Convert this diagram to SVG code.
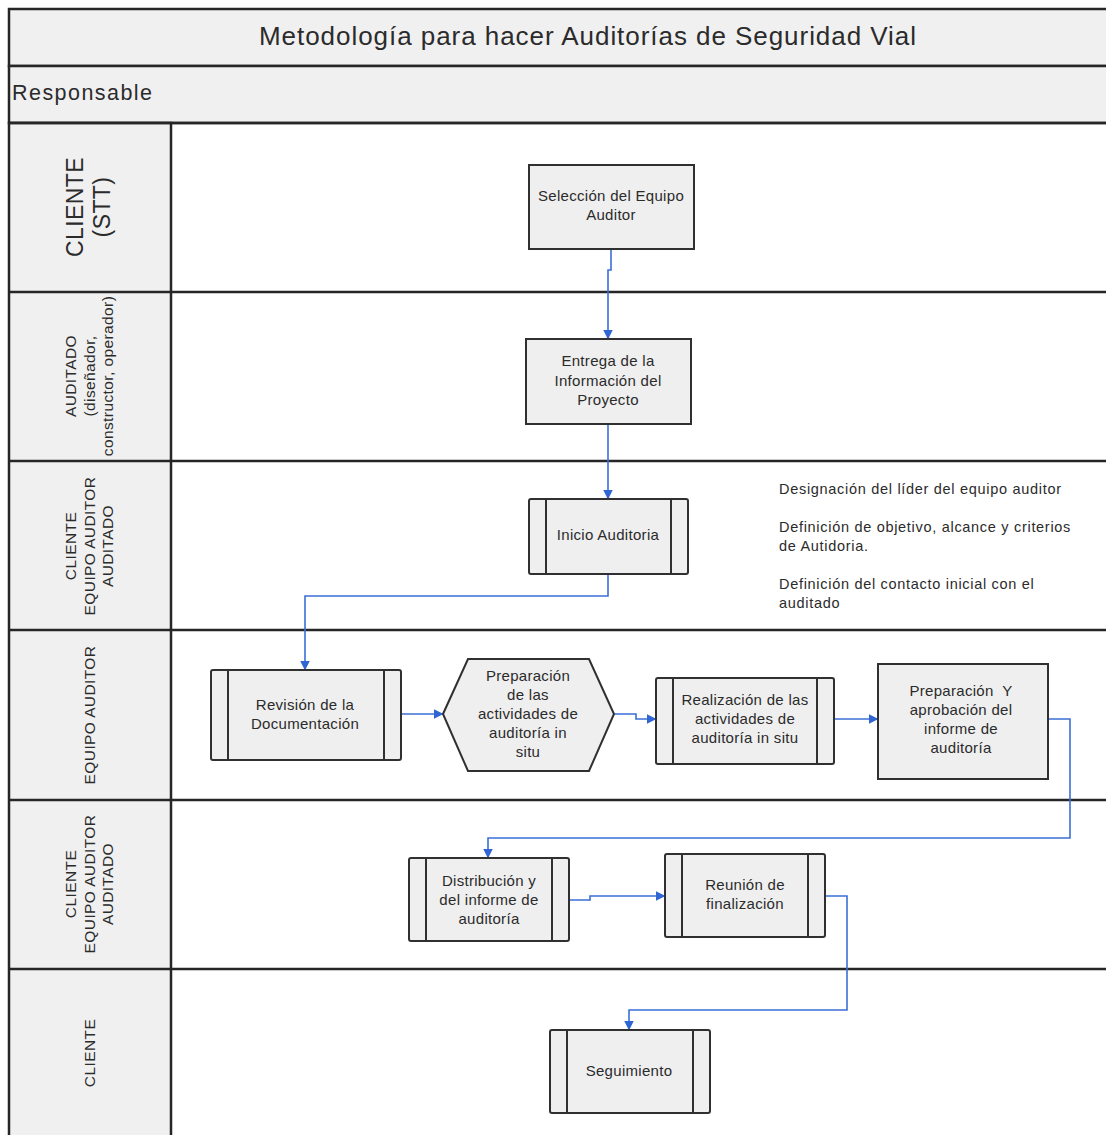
<svg xmlns="http://www.w3.org/2000/svg" width="1106" height="1135" viewBox="0 0 1106 1135">
<style>
text{font-family:"Liberation Sans",Arial,sans-serif;fill:#2b2b2b}
.hdr{fill:#f0f0f0;stroke:#262626;stroke-width:2.5}
.lane{stroke:#262626;stroke-width:2.5;fill:none}
.box{fill:#efefef;stroke:#303030;stroke-width:2}
.bar{stroke:#303030;stroke-width:2;fill:none}
.nt{font-size:15px;text-anchor:middle;letter-spacing:0.3px}
.lt{font-size:15.5px;text-anchor:middle;letter-spacing:0.4px}
.an{font-size:14.5px;letter-spacing:0.7px}
.con{fill:none;stroke:#3b6fd6;stroke-width:1.6}
</style>
<defs>
<marker id="arr" viewBox="0 0 10 10" refX="9.5" refY="5" markerWidth="10" markerHeight="10" markerUnits="userSpaceOnUse" orient="auto">
<path d="M0,0 L10,5 L0,10 z" fill="#2f66d4"/>
</marker>
</defs>
<rect x="0" y="0" width="1106" height="1135" fill="#ffffff"/>
<g id="frame">
<rect class="hdr" x="9" y="9" width="1110" height="57"/>
<rect class="hdr" x="9" y="66" width="1110" height="57"/>
<rect class="hdr" x="9" y="123" width="162" height="1020"/>
<line class="lane" x1="9" y1="123" x2="1106" y2="123"/>
<line class="lane" x1="9" y1="292" x2="1106" y2="292"/>
<line class="lane" x1="9" y1="461" x2="1106" y2="461"/>
<line class="lane" x1="9" y1="630" x2="1106" y2="630"/>
<line class="lane" x1="9" y1="800" x2="1106" y2="800"/>
<line class="lane" x1="9" y1="969" x2="1106" y2="969"/>
<text x="588" y="45" font-size="26" text-anchor="middle" letter-spacing="0.95">Metodología para hacer Auditorías de Seguridad Vial</text>
<text x="12" y="100" font-size="21.5" letter-spacing="1.45">Responsable</text>
</g>
<g id="lanes">
<g id="lane1"><text class="lt" transform="translate(83,207) rotate(-90)" style="font-size:23px">CLIENTE<tspan x="0" dy="27">(STT)</tspan></text></g>
<g id="lane2"><text class="lt" transform="translate(76,376) rotate(-90)">AUDITADO<tspan x="0" dy="18.5">(diseñador,</tspan><tspan x="0" dy="18.5">constructor, operador)</tspan></text></g>
<g id="lane3"><text class="lt" transform="translate(76,546) rotate(-90)">CLIENTE<tspan x="0" dy="18.5">EQUIPO AUDITOR</tspan><tspan x="0" dy="18.5">AUDITADO</tspan></text></g>
<g id="lane4"><text class="lt" transform="translate(95,715) rotate(-90)">EQUIPO AUDITOR</text></g>
<g id="lane5"><text class="lt" transform="translate(76,884) rotate(-90)">CLIENTE<tspan x="0" dy="18.5">EQUIPO AUDITOR</tspan><tspan x="0" dy="18.5">AUDITADO</tspan></text></g>
<g id="lane6"><text class="lt" transform="translate(95,1053) rotate(-90)">CLIENTE</text></g>
</g>
<g id="connectors">
<path class="con" d="M611,249 V270 H608 V339" marker-end="url(#arr)"/>
<path class="con" d="M608,424 V499" marker-end="url(#arr)"/>
<path class="con" d="M608,574 V596 H305 V670" marker-end="url(#arr)"/>
<path class="con" d="M401,714 H443" marker-end="url(#arr)"/>
<path class="con" d="M614,714 H636 V719 H656" marker-end="url(#arr)"/>
<path class="con" d="M834,719 H878" marker-end="url(#arr)"/>
<path class="con" d="M1048,719 H1070 V838 H488 V858" marker-end="url(#arr)"/>
<path class="con" d="M569,900 H590 V896 H665" marker-end="url(#arr)"/>
<path class="con" d="M825,896 H847 V1010 H629 V1030" marker-end="url(#arr)"/>
</g>
<g id="n1"><rect class="box" x="529" y="165" width="165" height="84"/>
<text class="nt" x="611" y="201">Selección del Equipo<tspan x="611" dy="19">Auditor</tspan></text></g>
<g id="n2"><rect class="box" x="526" y="339" width="165" height="85"/>
<text class="nt" x="608" y="366">Entrega de la<tspan x="608" dy="19.5">Información del</tspan><tspan x="608" dy="19.5">Proyecto</tspan></text></g>
<g id="n3"><rect class="box" x="529" y="499" width="159" height="75" rx="2"/>
<line class="bar" x1="546" y1="499" x2="546" y2="574"/><line class="bar" x1="671" y1="499" x2="671" y2="574"/>
<text class="nt" x="608" y="540">Inicio Auditoria</text></g>
<g id="n4"><rect class="box" x="211" y="670" width="190" height="90" rx="2"/>
<line class="bar" x1="228" y1="670" x2="228" y2="760"/><line class="bar" x1="384" y1="670" x2="384" y2="760"/>
<text class="nt" x="305" y="710">Revisión de la<tspan x="305" dy="19">Documentación</tspan></text></g>
<g id="n5"><polygon class="box" points="443,714 468,659 589,659 614,714 589,771 468,771"/>
<text class="nt" x="528" y="681">Preparación<tspan x="528" dy="19">de las</tspan><tspan x="528" dy="19">actividades de</tspan><tspan x="528" dy="19">auditoría in</tspan><tspan x="528" dy="19">situ</tspan></text></g>
<g id="n6"><rect class="box" x="656" y="678" width="178" height="86" rx="2"/>
<line class="bar" x1="673" y1="678" x2="673" y2="764"/><line class="bar" x1="817" y1="678" x2="817" y2="764"/>
<text class="nt" x="745" y="705">Realización de las<tspan x="745" dy="19">actividades de</tspan><tspan x="745" dy="19">auditoría in situ</tspan></text></g>
<g id="n7"><rect class="box" x="878" y="664" width="170" height="115"/>
<text class="nt" x="961" y="696" xml:space="preserve">Preparación  Y<tspan x="961" dy="19">aprobación del</tspan><tspan x="961" dy="19">informe de</tspan><tspan x="961" dy="19">auditoría</tspan></text></g>
<g id="n8"><rect class="box" x="409" y="858" width="160" height="83" rx="2"/>
<line class="bar" x1="426" y1="858" x2="426" y2="941"/><line class="bar" x1="552" y1="858" x2="552" y2="941"/>
<text class="nt" x="489" y="886">Distribución y<tspan x="489" dy="19">del informe de</tspan><tspan x="489" dy="19">auditoría</tspan></text></g>
<g id="n9"><rect class="box" x="665" y="854" width="160" height="83" rx="2"/>
<line class="bar" x1="682" y1="854" x2="682" y2="937"/><line class="bar" x1="808" y1="854" x2="808" y2="937"/>
<text class="nt" x="745" y="890">Reunión de<tspan x="745" dy="19">finalización</tspan></text></g>
<g id="n10"><rect class="box" x="550" y="1030" width="160" height="83" rx="2"/>
<line class="bar" x1="567" y1="1030" x2="567" y2="1113"/><line class="bar" x1="693" y1="1030" x2="693" y2="1113"/>
<text class="nt" x="629" y="1076">Seguimiento</text></g>
<g id="notes">
<text class="an" x="779" y="494">Designación del líder del equipo auditor</text>
<text class="an" x="779" y="532">Definición de objetivo, alcance y criterios</text>
<text class="an" x="779" y="551">de Autidoria.</text>
<text class="an" x="779" y="589">Definición del contacto inicial con el</text>
<text class="an" x="779" y="608">auditado</text>
</g>
</svg>
